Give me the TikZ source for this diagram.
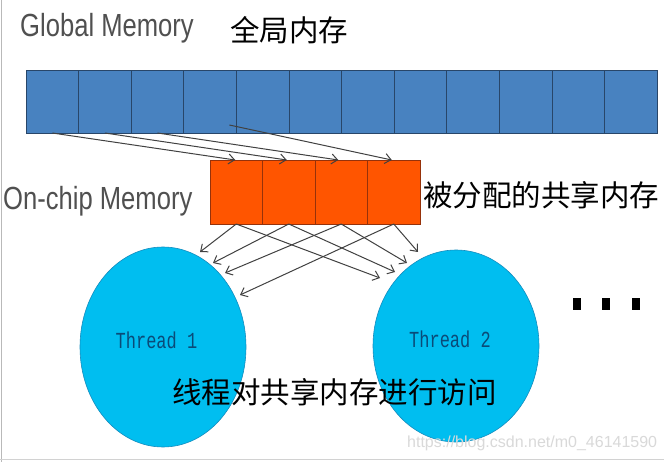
\documentclass[tikz,border=0pt]{standalone}
\usepackage{fontspec}
\setmainfont{Liberation Sans}
\setmonofont{Liberation Mono}
\newfontfamily\cjk{Noto Sans CJK SC}
\newfontfamily\narrowfont[FakeStretch=0.8]{Liberation Sans}
\usetikzlibrary{arrows.meta,shapes.geometric,calc}
\definecolor{gblue}{RGB}{72,130,192}
\definecolor{gline}{RGB}{40,70,105}
\definecolor{orng}{RGB}{255,85,0}
\definecolor{oline}{RGB}{150,50,10}
\definecolor{thr}{RGB}{0,190,240}
\definecolor{thrline}{RGB}{20,140,190}
\definecolor{thrtxt}{RGB}{10,75,120}
\definecolor{arr}{RGB}{65,65,65}
\definecolor{lbl}{RGB}{80,80,80}
\begin{document}
\begin{tikzpicture}[x=1pt,y=-1pt,
  gcell/.style={draw=gline, line width=0.6pt, fill=gblue, minimum width=52.58pt, minimum height=63pt, inner sep=0pt, outer sep=0pt, anchor=north west},
  ocell/.style={draw=oline, line width=0.6pt, fill=orng, minimum width=52.5pt, minimum height=64pt, inner sep=0pt, outer sep=0pt, anchor=north west},
  thread/.style={ellipse, draw=thrline, line width=0.6pt, fill=thr, inner sep=0pt, minimum width=166pt},
  thrlabel/.style={font=\ttfamily\fontsize{17}{20}\selectfont, text=thrtxt, inner sep=0pt},
  title/.style={font=\narrowfont\fontsize{32}{36}\selectfont, text=lbl, inner sep=0pt, anchor=base west},
  cjktext/.style={font=\cjk\fontsize{29.5}{34}\selectfont, text=black, inner sep=0pt, anchor=west},
  conn/.style={draw=arr, line width=1pt, -{Straight Barb[length=6pt,width=10pt]}},
  dotsq/.style={fill=black, minimum width=8pt, minimum height=12pt, inner sep=0pt},
]
\useasboundingbox (0,0) rectangle (664,462);
\fill[white] (0,0) rectangle (664,462);
\draw[gray!55, line width=1.5pt] (1.5,0) -- (1.5,462);
\draw[gray!35, line width=1.2pt] (0,459.5) -- (664,459.5);

% titles
\node[title] (gm) at (20,37) {Global Memory};
\node[cjktext] (gmc) at (230,30) {全局内存};
\node[title] (om) at (3,210) {On-chip Memory};
\node[cjktext] (omc) at (423,195) {被分配的共享内存};

% global memory
\foreach \i in {1,...,12} {
  \node[gcell] (g\i) at ({26+(\i-1)*52.58},70) {};
}
% on-chip memory
\foreach \i in {1,...,4} {
  \node[ocell] (o\i) at ({210+(\i-1)*52.5},160) {};
}

% threads
\node[thread, minimum height=200pt] (t1) at (163,347) {};
\node[thread, minimum height=192pt] (t2) at (456,346) {};
\node[thrlabel] (t1l) at (156.5,340) {\scalebox{1}[1.35]{Thread 1}};
\node[thrlabel] (t2l) at (450,339) {\scalebox{1}[1.35]{Thread 2}};

% global -> on-chip
\coordinate (g4s) at ($(g4.south east)+(-7,-8)$);
\draw[conn] (g1.south) -- ($(o1.north)+(-1,0)$);
\draw[conn] (g2.south) -- ($(o2.north)+(-2,0)$);
\draw[conn] (g3.south) -- ($(o3.north)+(-3,0)$);
\draw[conn] (g4s) -- ($(o4.north)+(-2,0)$);

% on-chip -> threads
\coordinate (a11) at (200,252);
\coordinate (a21) at (213,263);
\coordinate (a31) at (225,273);
\coordinate (a41) at (240,295);
\coordinate (a12) at (380,278);
\coordinate (a22) at (395,272);
\coordinate (a32) at (407,263);
\coordinate (a42) at (418,252);
\foreach \i in {1,...,4} {
  \draw[conn] (o\i.south) -- (a\i1);
  \draw[conn] (o\i.south) -- (a\i2);
}

% caption
\node[cjktext] (cap) at (172,392) {线程对共享内存进行访问};

% dots
\node[dotsq] (d1) at (577,304) {};
\node[dotsq] (d2) at (606,304) {};
\node[dotsq] (d3) at (636,304) {};

% watermark
\node[anchor=west, inner sep=0pt, font=\fontsize{16}{18}\selectfont, text=gray!30] (wm) at (407,443) {https://blog.csdn.net/m0\_46141590};
\end{tikzpicture}
\end{document}
